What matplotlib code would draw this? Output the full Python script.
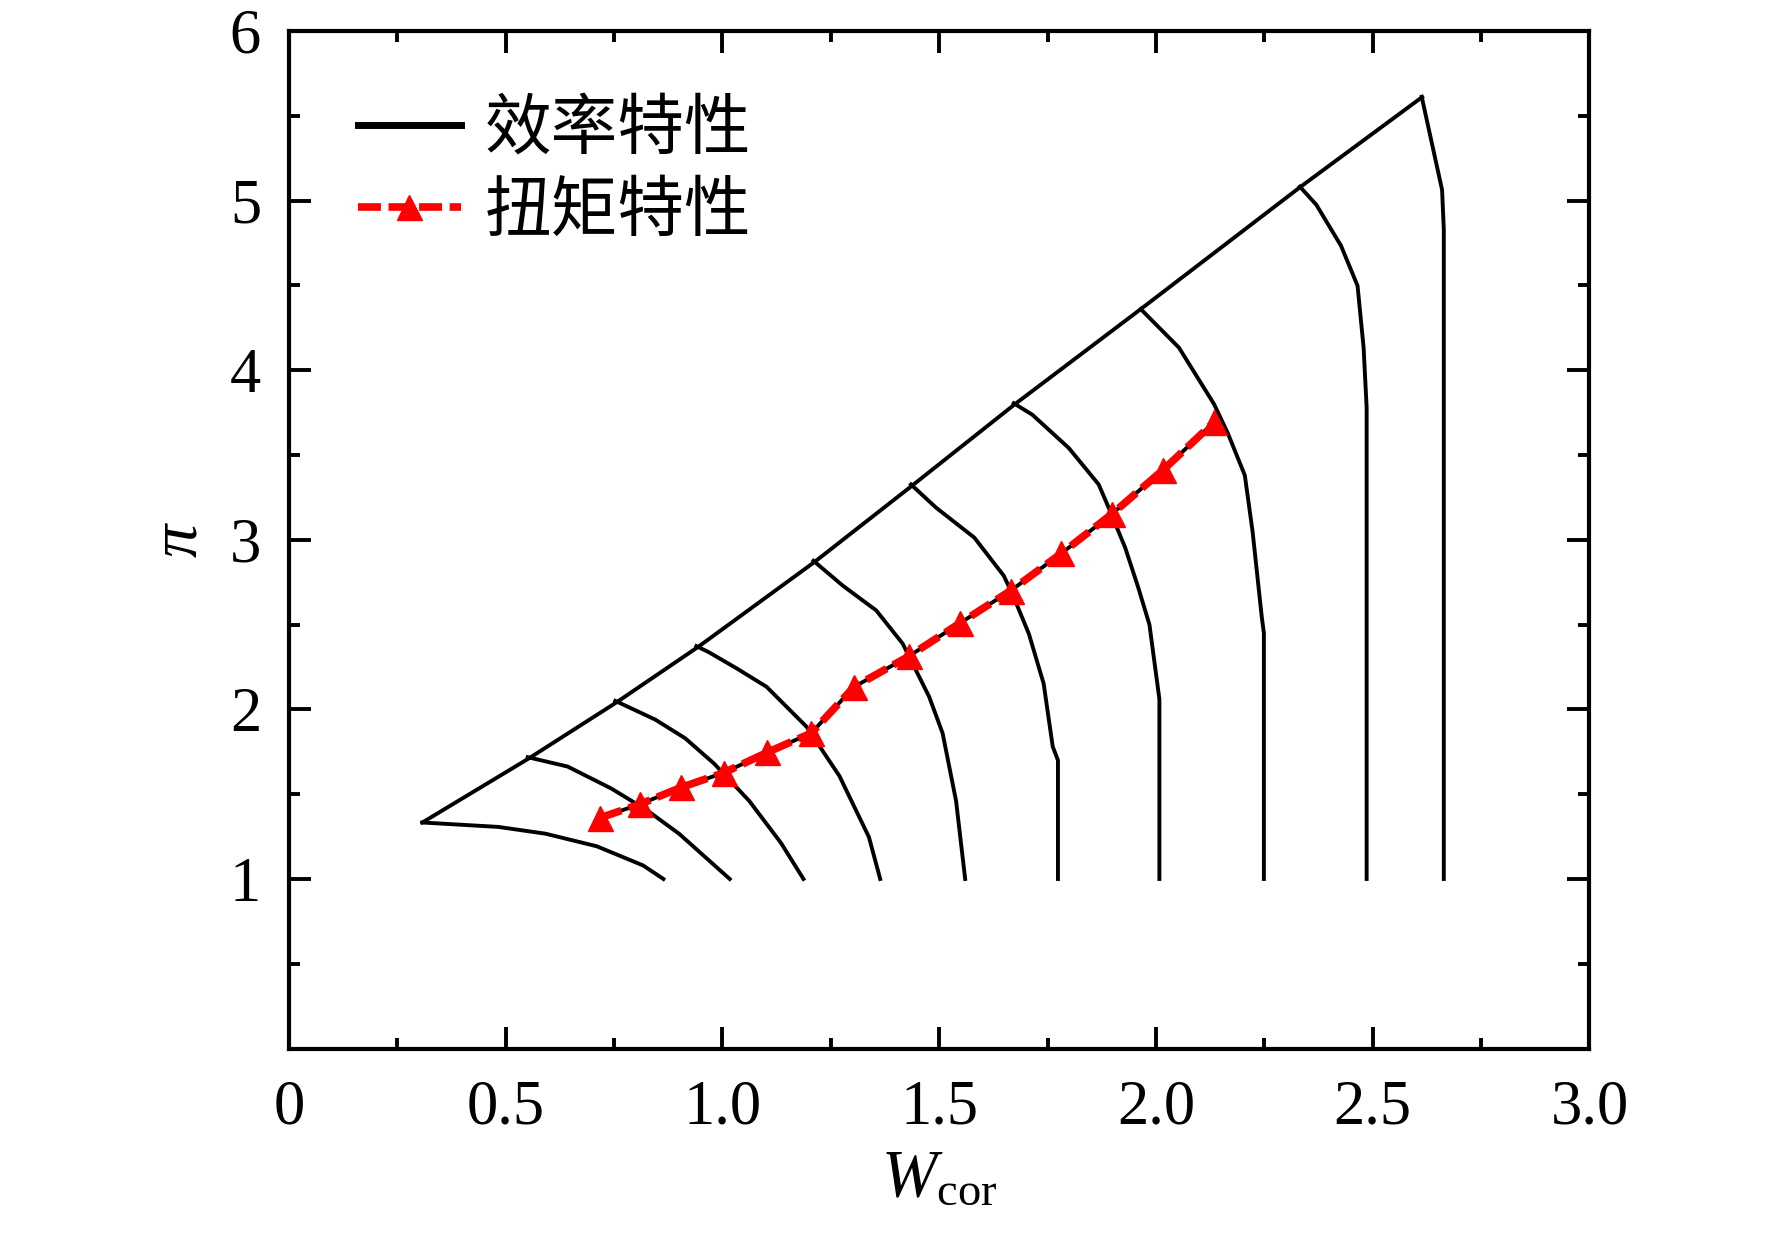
import matplotlib
matplotlib.use("Agg")
from matplotlib import pyplot as plt
from matplotlib.lines import Line2D

plt.rcParams['font.family'] = ['Liberation Serif', 'Noto Sans CJK SC']
plt.rcParams['mathtext.fontset'] = 'custom'
plt.rcParams['mathtext.rm'] = 'Liberation Serif'
plt.rcParams['mathtext.it'] = 'Liberation Serif:italic'

# surge envelope (top ends of the speed lines)
env_x = [0.308, 0.553, 0.755, 0.945, 1.213, 1.438, 1.675, 1.965, 2.333, 2.614]
env_y = [1.333, 1.71, 2.04, 2.37, 2.87, 3.32, 3.80, 4.36, 5.08, 5.61]

# speed lines (efficiency characteristic)
speed_x = [
    [0.308, 0.483, 0.592, 0.710, 0.817, 0.864],
    [0.551, 0.643, 0.744, 0.825, 0.900, 1.017],
    [0.753, 0.845, 0.914, 0.981, 1.062, 1.135, 1.187],
    [0.940, 0.968, 1.034, 1.102, 1.194, 1.270, 1.338, 1.364],
    [1.210, 1.278, 1.355, 1.416, 1.477, 1.508, 1.539, 1.560],
    [1.435, 1.493, 1.581, 1.649, 1.669, 1.707, 1.741, 1.762, 1.774, 1.774],
    [1.672, 1.715, 1.799, 1.868, 1.891, 1.929, 1.959, 1.985, 2.008, 2.008],
    [1.965, 2.053, 2.134, 2.166, 2.205, 2.223, 2.244, 2.249, 2.249],
    [2.332, 2.370, 2.427, 2.465, 2.479, 2.486, 2.486],
    [2.613, 2.660, 2.664, 2.664],
]
speed_y = [
    [1.333, 1.307, 1.267, 1.193, 1.080, 1.0],
    [1.718, 1.663, 1.533, 1.407, 1.267, 1.0],
    [2.05, 1.94, 1.83, 1.68, 1.46, 1.213, 1.0],
    [2.373, 2.338, 2.24, 2.133, 1.898, 1.607, 1.247, 1.0],
    [2.876, 2.729, 2.583, 2.387, 2.074, 1.859, 1.46, 1.0],
    [3.326, 3.189, 3.013, 2.788, 2.68, 2.445, 2.152, 1.78, 1.70, 1.0],
    [3.805, 3.737, 3.541, 3.326, 3.189, 2.954, 2.720, 2.5, 2.06, 1.0],
    [4.36, 4.133, 3.80, 3.627, 3.38, 3.047, 2.547, 2.45, 1.0],
    [5.082, 4.975, 4.733, 4.498, 4.133, 3.78, 1.0],
    [5.612, 5.063, 4.827, 1.0],
]

# torque characteristic
torque_x = [0.717, 0.809, 0.905, 1.004, 1.104, 1.205, 1.304, 1.430, 1.547,
            1.665, 1.782, 1.899, 2.017, 2.134]
torque_y = [1.36, 1.44, 1.54, 1.627, 1.747, 1.86, 2.133, 2.313, 2.507,
            2.70, 2.92, 3.153, 3.413, 3.693]

fig = plt.figure(figsize=(17.72, 12.38), dpi=100)
ax = fig.add_axes([0.163, 0.153, 0.734, 0.822])

lw = 2.8
ax.plot(env_x, env_y, color='black', lw=lw)
for xs, ys in zip(speed_x, speed_y):
    ax.plot(xs, ys, color='black', lw=lw)

dash = (0, (3.0, 1.0))
ax.plot(torque_x, torque_y, color='black', lw=lw)
ax.plot(torque_x, torque_y, color='red', lw=5.5, ls=dash,
        marker='^', ms=18, mec='red', mfc='red')

ax.set_xlim(0, 3.0)
ax.set_ylim(0, 6)
ax.set_xticks([0, 0.5, 1.0, 1.5, 2.0, 2.5, 3.0])
ax.set_xticklabels(['0', '0.5', '1.0', '1.5', '2.0', '2.5', '3.0'])
ax.set_xticks([0.25, 0.75, 1.25, 1.75, 2.25, 2.75], minor=True)
ax.set_yticks([1, 2, 3, 4, 5, 6])
ax.set_yticks([0.5, 1.5, 2.5, 3.5, 4.5, 5.5], minor=True)

ax.tick_params(which='both', direction='in', top=True, right=True,
               labelsize=45, width=2.8)
ax.tick_params(which='major', length=16)
ax.tick_params(which='minor', length=8)
ax.tick_params(axis='x', which='major', pad=22)
ax.tick_params(axis='y', which='major', pad=20)
for s in ax.spines.values():
    s.set_linewidth(3.0)

ax.set_xlabel(r'$W_{\mathrm{cor}}$', fontsize=48, labelpad=8)
ax.set_ylabel(r'$\pi$', fontsize=48, labelpad=14)

handles = [
    Line2D([], [], color='black', lw=5),
    Line2D([], [], color='red', lw=5.5, ls=dash, marker='^', ms=18),
]
ax.legend(handles, ['效率特性', '扭矩特性'], loc='upper left',
          bbox_to_anchor=(0.017, 0.982), frameon=False,
          prop={'family': ['Noto Sans CJK SC'], 'size': 48},
          handlelength=1.55, handletextpad=0.35, labelspacing=0.22,
          borderaxespad=0.3)

fig.savefig('out.png', dpi=100)
